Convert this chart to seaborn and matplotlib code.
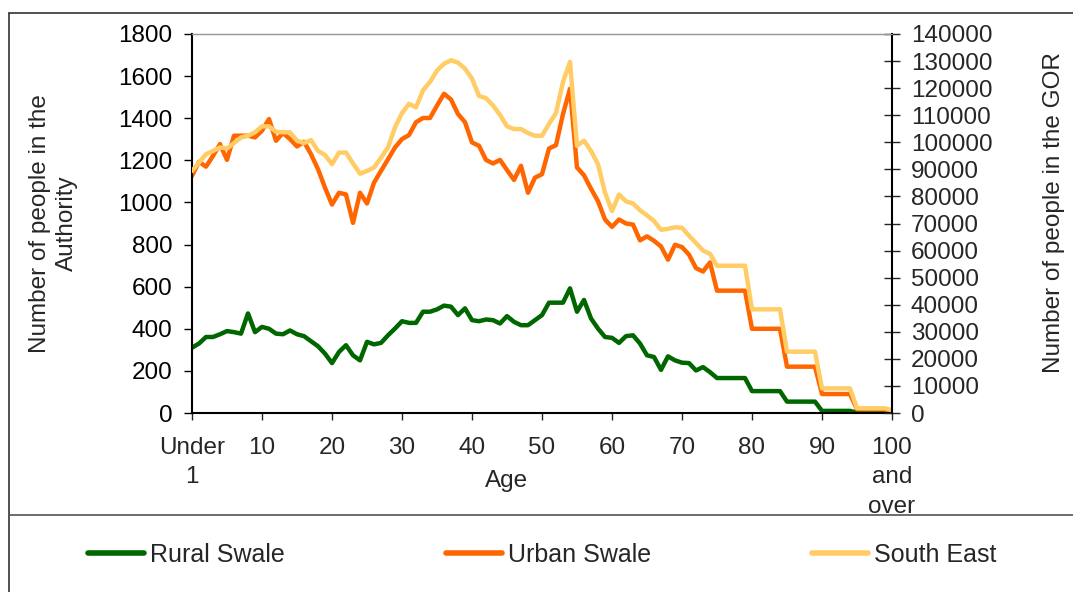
import numpy as np
import pandas as pd
import seaborn as sns
import matplotlib.pyplot as plt
from matplotlib.lines import Line2D

# age index 0 = "Under 1", 100 = "100 and over"
ages = list(range(101))

rural_swale = [310, 330, 361, 361, 374, 389, 384, 377, 473, 384,
               409, 400, 377, 374, 392, 374, 365, 341, 317, 282,
               237, 290, 322, 274, 250, 338, 326, 333, 369, 401,
               436, 428, 428, 481, 481, 492, 510, 505, 465, 497,
               441, 436, 444, 441, 425, 460, 433, 417, 417, 441,
               465, 524, 524, 524, 592, 481, 537, 449, 401, 361,
               357, 333, 365, 369, 330, 274, 266, 205, 269, 250,
               239, 237, 202, 218, 194, 166, 166, 166, 166, 166,
               104, 104, 104, 104, 104, 54, 54, 54, 54, 54,
               10, 10, 10, 10, 10, 2, 2, 2, 2, 2, 1]

urban_swale = [1126, 1193, 1170, 1221, 1277, 1202, 1317, 1317, 1317, 1309,
               1341, 1396, 1293, 1330, 1301, 1266, 1288, 1229, 1158, 1070,
               990, 1046, 1038, 903, 1046, 995, 1094, 1150, 1205, 1261,
               1301, 1320, 1381, 1401, 1401, 1460, 1516, 1489, 1420, 1381,
               1285, 1269, 1202, 1185, 1202, 1154, 1107, 1174, 1046, 1118,
               1134, 1256, 1272, 1420, 1540, 1166, 1129, 1065, 1006, 919,
               884, 919, 900, 895, 820, 839, 818, 791, 728, 799,
               788, 752, 688, 672, 715, 581, 581, 581, 581, 581,
               400, 400, 400, 400, 400, 220, 220, 220, 220, 220,
               90, 90, 90, 90, 90, 18, 18, 18, 18, 18, 5]

south_east = [89400, 92500, 95600, 96800, 98100, 97700, 99700, 101800, 102400, 103700,
              105900, 105900, 103900, 103700, 103700, 100600, 99700, 100800, 96800, 95300,
              91900, 96200, 96200, 92200, 88400, 89400, 90700, 94300, 98100, 105500,
              110800, 114200, 112900, 119200, 122300, 126500, 129000, 130300, 129400, 127200,
              123500, 117100, 116300, 113600, 110100, 105900, 104900, 104900, 103400, 102400,
              102400, 106800, 110800, 122300, 129700, 98700, 100600, 96800, 91900, 81400,
              74600, 80700, 78200, 77400, 74900, 73000, 70900, 67700, 68000, 68600,
              68400, 65500, 62800, 60000, 58800, 54400, 54400, 54400, 54400, 54400,
              38300, 38300, 38300, 38300, 38300, 22650, 22650, 22650, 22650, 22650,
              9100, 9100, 9100, 9100, 9100, 1750, 1750, 1750, 1750, 1750, 1000]

tick_pos = list(range(0, 101, 10))
tick_labels = ['Under\n1', '10', '20', '30', '40', '50', '60', '70', '80', '90', '100\nand\nover']

sns.set_style('white')
plt.rcParams['font.family'] = ['Liberation Sans', 'DejaVu Sans']
plt.rcParams['font.size'] = 17.5

W, H = 1073, 592
fig = plt.figure(figsize=(W / 100, H / 100), dpi=100)
ax = fig.add_axes([192 / W, 1 - 413 / H, 700 / W, 379 / H])
ax2 = ax.twinx()

sns.lineplot(x=ages, y=rural_swale, ax=ax, color='#006600', lw=3.2, label='Rural Swale', legend=False)
sns.lineplot(x=ages, y=urban_swale, ax=ax, color='#ff6600', lw=3.2, label='Urban Swale', legend=False)
sns.lineplot(x=ages, y=south_east, ax=ax2, color='#ffcc66', lw=3.2, label='South East', legend=False)

ax.set_xlim(0, 100)
ax.set_ylim(0, 1800)
ax2.set_ylim(0, 140000)
ax.set_yticks(range(0, 1801, 200))
ax2.set_yticks(range(0, 140001, 10000))
ax.set_xticks(tick_pos)
ax.set_xticklabels(tick_labels, linespacing=1.45)

for s in ['left', 'bottom']:
    ax.spines[s].set_color('black')
    ax.spines[s].set_linewidth(1.5)
ax.spines['top'].set_color('#999999')
ax.spines['top'].set_linewidth(1)
ax.spines['right'].set_visible(False)
for s in ['left', 'bottom']:
    ax2.spines[s].set_visible(False)
ax2.spines['top'].set_color('#999999')
ax2.spines['right'].set_color('black')
ax2.spines['right'].set_linewidth(1.5)

ax.tick_params(axis='y', direction='out', length=6, width=1, pad=8, left=True, colors='black')
ax.tick_params(axis='x', direction='out', length=5, width=1, pad=12, bottom=True)
ax2.tick_params(axis='y', direction='inout', length=11, width=1, pad=8, right=True)

ax.set_xlabel('Age')
ax.xaxis.set_label_coords((507 - 192) / 700, -0.15)
ax.set_ylabel('Number of people in the\nAuthority', linespacing=1.3)
ax.yaxis.set_label_coords((78 - 192) / 700, 0.5)
ax2.set_ylabel('Number of people in the GOR', rotation=90)
ax2.yaxis.set_label_coords((1043 - 192) / 700, 0.53)

# outer chart frame and legend separator
fig.add_artist(Line2D([9 / W, 1], [1 - 13 / H, 1 - 13 / H], color='#333333', lw=1.2))
fig.add_artist(Line2D([9 / W, 9 / W], [0, 1 - 13 / H], color='#333333', lw=1.2))
fig.add_artist(Line2D([9 / W, 1], [1 - 515 / H, 1 - 515 / H], color='#555555', lw=1.2))

handles = ax.get_lines()[:2] + ax2.get_lines()[:1]
handles = [Line2D([], [], color=h.get_color(), lw=4) for h in handles]
fig.legend(handles, ['Rural Swale', 'Urban Swale', 'South East'], loc='center',
           bbox_to_anchor=(542 / W, 1 - 555 / H), ncol=3, frameon=False, fontsize=18,
           handlelength=2.24, handletextpad=0.24, columnspacing=6.45)

fig.savefig('out.png', dpi=100)
